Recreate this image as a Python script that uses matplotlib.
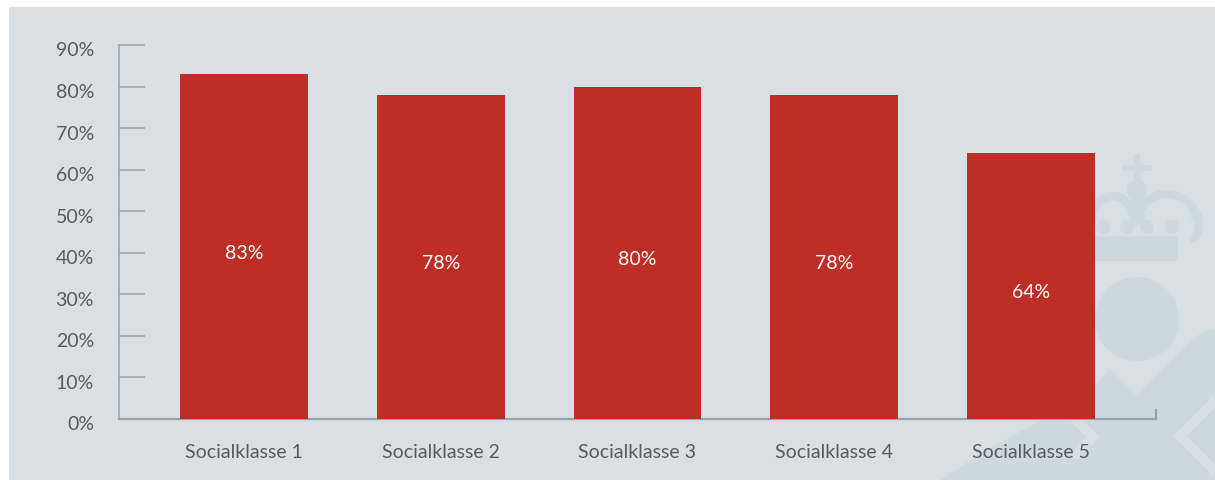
import matplotlib
matplotlib.use("Agg")
import matplotlib.pyplot as plt
import matplotlib.transforms as mtransforms
from matplotlib.patches import Rectangle, Circle, Polygon, Arc

# Andel pr. socialklasse
categories = ["Socialklasse 1", "Socialklasse 2", "Socialklasse 3", "Socialklasse 4", "Socialklasse 5"]
shares = [0.83, 0.78, 0.80, 0.78, 0.64]
yticks = [0.0, 0.1, 0.2, 0.3, 0.4, 0.5, 0.6, 0.7, 0.8, 0.9]
ytick_labels = ["0%", "10%", "20%", "30%", "40%", "50%", "60%", "70%", "80%", "90%"]

BG = "#d8dfe5"
MARK = "#cdd8df"
BAR = "#be2d26"
TEXT = "#575c61"
AXIS = "#97a2aa"

plt.rcParams["font.family"] = ["Lato", "DejaVu Sans"]

W, H = 1215, 481
fig = plt.figure(figsize=(W / 100, H / 100), dpi=100, facecolor="white")

# backdrop panel with faint crown emblem, drawn in pixel units
bg = fig.add_axes([0, 0, 1, 1], zorder=0)
bg.set_xlim(0, W)
bg.set_ylim(H, 0)
bg.axis("off")
bg.add_patch(Rectangle((9, 8), W - 9, H - 8, color=BG, lw=0))

bg.add_patch(Polygon([(940, 481), (985, 452), (1040, 422), (1085, 398), (1110, 370),
                      (1137, 397), (1196, 338), (1206, 331), (1215, 330), (1215, 481)],
                     closed=True, color=MARK, lw=0))
for pts in ([(1073, 418), (1093, 438), (1073, 458)],
            [(1215, 402), (1180, 437), (1215, 472)]):
    bg.plot(*zip(*pts), color=BG, lw=7, solid_joinstyle="miter", solid_capstyle="butt")
bg.add_patch(Circle((1137, 320), 42, color=MARK, lw=0))
bg.add_patch(Rectangle((1090, 237), 88, 25, color=MARK, lw=0))
bg.plot([1137, 1137], [155, 182], color=MARK, lw=4.5, solid_capstyle="butt")
bg.plot([1122, 1152], [169, 169], color=MARK, lw=4, solid_capstyle="butt")
bg.add_patch(Circle((1137, 191), 10, color=MARK, lw=0))
bg.add_patch(Arc((1113, 222), 42, 50, theta1=180, theta2=360, color=MARK, lw=6))
bg.add_patch(Arc((1167, 222), 58, 54, theta1=180, theta2=360, color=MARK, lw=6))
bg.add_patch(Arc((1190, 225), 18, 30, theta1=270, theta2=450, color=MARK, lw=6))
for cx in (1103, 1127, 1147, 1172):
    bg.add_patch(Circle((cx, 228), 7, color=MARK, lw=0))
for cy in (206, 218):
    bg.add_patch(Circle((1137, cy), 8, color=MARK, lw=0))

ax = fig.add_axes([119 / W, (H - 420) / H, (1156 - 119) / W, (420 - 46) / H], zorder=1)
ax.patch.set_alpha(0)

x = range(len(categories))
bars = ax.bar(x, shares, width=0.65, color=BAR, zorder=3)
for rect, v in zip(bars, shares):
    ax.annotate(f"{round(v * 100)}%", (rect.get_x() + rect.get_width() / 2, v / 2),
                xytext=(0, -4), textcoords="offset points",
                ha="center", va="center", color="white", fontsize=14, zorder=4)

ax.set_xlim(-0.635, len(categories) - 1 + 0.635)
ax.set_ylim(0, 0.9)
ax.set_yticks(yticks)
ax.set_yticklabels(ytick_labels)
ax.set_xticks(list(x))
ax.set_xticklabels(categories)

ax.tick_params(axis="y", direction="in", length=18.7, width=1.1, color=AXIS,
               pad=18, labelsize=14, labelcolor=TEXT)
# nudge the percent labels a little below their ticks
shift = mtransforms.ScaledTranslation(0, -2.5 / 72, fig.dpi_scale_trans)
for lbl in ax.get_yticklabels():
    lbl.set_verticalalignment("center_baseline")
    lbl.set_transform(lbl.get_transform() + shift)
ax.tick_params(axis="x", length=0, pad=17.5, labelsize=14, labelcolor=TEXT)

ax.spines["top"].set_visible(False)
ax.spines["left"].set_color(AXIS)
ax.spines["left"].set_linewidth(1.1)
ax.spines["bottom"].set_color(AXIS)
ax.spines["bottom"].set_linewidth(1.6)
ax.spines["right"].set_color(AXIS)
ax.spines["right"].set_linewidth(1.6)
ax.spines["right"].set_bounds(0, 0.022)

fig.savefig("out.png", dpi=100, facecolor="white")
